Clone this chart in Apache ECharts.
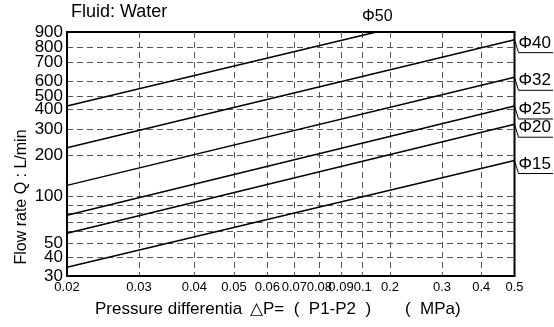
<!DOCTYPE html>
<html>
<head>
<meta charset="utf-8">
<script src="https://cdn.jsdelivr.net/npm/echarts@6/dist/echarts.min.js"></script>
<style>
  html, body { margin: 0; padding: 0; background: #fff; }
  #chart { width: 554px; height: 327px; }
</style>
</head>
<body>
<div id="chart"></div>
<script>
// tick values and their labels (pressure MPa / flow L/min)
const xTicks = [0.02, 0.03, 0.04, 0.05, 0.06, 0.07, 0.08, 0.09, 0.1, 0.2, 0.3, 0.4, 0.5];
const xTickLabels = ['0.02', '0.03', '0.04', '0.05', '0.06', '0.07', '0.08', '0.09', '0.1', '0.2', '0.3', '0.4', '0.5'];
const yTicks = [30, 40, 50, 60, 70, 80, 90, 100, 200, 300, 400, 500, 600, 700, 800, 900];
const yTickLabels = ['30', '40', '50', '', '', '', '', '100', '200', '300', '400', '500', '600', '700', '800', '900'];

// the printed chart is not evenly scaled: where each tick sits along its axis
const xTickPos = [0, 72, 127.3, 167, 200.3, 227.3, 252.3, 274, 295.7, 323, 375, 414.3, 447.5];
const yTickPos = [0, 18.6, 32.3, 44.5, 53.8, 63.2, 70.7, 80, 120.8, 146.8, 166.7, 180, 195, 213.5, 228.7, 244];

// sizes (pipe bore) and line end points [pressure, flow]
const sizes = ['Φ50', 'Φ40', 'Φ32', 'Φ25', 'Φ20', 'Φ15'];
const startP = [0.02, 0.02, 0.02, 0.02, 0.02, 0.02];
const startQ = [425, 229, 126, 77.3, 58.5, 34.7];
const endP = [0.15, 0.5, 0.5, 0.5, 0.5, 0.5];
const endQ = [900, 850, 620, 425, 325, 187];

function mapScale(v, vals, pos) {
    for (let i = 0; i < vals.length - 1; i++) {
        if (v <= vals[i + 1] || i === vals.length - 2) {
            return pos[i] + (v - vals[i]) / (vals[i + 1] - vals[i]) * (pos[i + 1] - pos[i]);
        }
    }
}
function labelAt(v, pos, labels) {
    for (let i = 0; i < pos.length; i++) {
        if (Math.abs(pos[i] - v) < 0.01) return labels[i];
    }
    return '';
}
const mx = p => mapScale(p, xTicks, xTickPos);
const my = q => mapScale(q, yTicks, yTickPos);

const FONT = 'Liberation Sans, Arial, sans-serif';
const gridDash = { type: [6, 4], color: '#555', width: 1 };
const yMax = yTickPos[yTickPos.length - 1];

const series = sizes.map((name, i) => ({
    name: name,
    type: 'line',
    symbol: 'none',
    silent: true,
    lineStyle: { color: '#000', width: 1.5 },
    data: [[mx(startP[i]), my(startQ[i])], [mx(endP[i]), my(endQ[i])]]
}));

const yLabelStyle = {
    formatter: v => labelAt(v, yTickPos, yTickLabels),
    color: '#000', fontSize: 17, lineHeight: 11, fontFamily: FONT, margin: 4,
    showMinLabel: true, showMaxLabel: true, hideOverlap: false
};
// the top labels sit close together; each gets its own overlay axis so none is dropped
function labelAxis(values) {
    return {
        type: 'value',
        position: 'left',
        min: 0,
        max: yMax,
        axisLine: { show: false },
        axisTick: { show: false },
        axisLabel: Object.assign({ customValues: values }, yLabelStyle),
        splitLine: { show: false }
    };
}

var myChart = echarts.init(document.getElementById('chart'), null, { renderer: 'canvas' });
var option = {
    animation: false,
    grid: {
        left: 67, right: 39.5, top: 32, bottom: 51,
        show: true, borderColor: '#000', borderWidth: 2
    },
    xAxis: {
        type: 'value',
        min: 0,
        max: xTickPos[xTickPos.length - 1],
        axisLine: { lineStyle: { color: '#000', width: 2 } },
        axisTick: { show: false, customValues: xTickPos },
        axisLabel: {
            customValues: xTickPos,
            formatter: v => labelAt(v, xTickPos, xTickLabels),
            color: '#000', fontSize: 13, fontFamily: FONT, margin: 5,
            showMinLabel: true, showMaxLabel: true, hideOverlap: false
        },
        splitLine: { show: true, showMinLine: false, showMaxLine: false, lineStyle: gridDash }
    },
    yAxis: [
        {
            type: 'value',
            min: 0,
            max: yMax,
            axisLine: { lineStyle: { color: '#000', width: 2 } },
            axisTick: { show: false, customValues: yTickPos },
            axisLabel: Object.assign({ customValues: yTickPos.slice(0, -2) }, yLabelStyle),
            splitLine: { show: true, showMinLine: false, showMaxLine: false, lineStyle: gridDash }
        },
        labelAxis([yTickPos[yTickPos.length - 2]]),
        labelAxis([yMax])
    ],
    series: series
};
myChart.setOption(option);

// labels for each size, with the little leader line to the right of the plot
const graphics = [
    { type: 'text', left: 71, top: 3, style: { text: 'Fluid: Water', font: '18px ' + FONT, fill: '#000' } },
    {
        type: 'text', x: 22, y: 197, rotation: Math.PI / 2,
        style: { text: 'Flow rate Q : L/min', font: '16px ' + FONT, fill: '#000', align: 'center', verticalAlign: 'middle' }
    },
    { type: 'text', left: 95, top: 301, style: { text: 'Pressure differentia', font: '17px ' + FONT, fill: '#000' } },
    { type: 'text', left: 250, top: 301, style: { text: '\u25B3P=  (  P1-P2  )', font: '17px ' + FONT, fill: '#000' } },
    { type: 'text', left: 405, top: 301, style: { text: '(  MPa)', font: '17px ' + FONT, fill: '#000' } }
];
sizes.forEach((name, i) => {
    const p = myChart.convertToPixel({ gridIndex: 0 }, [mx(endP[i]), my(endQ[i])]);
    if (i === 0) {
        graphics.push({
            type: 'text', x: p[0] + 1, y: p[1] - 7,
            style: { text: name, font: '16px ' + FONT, fill: '#000', align: 'center', verticalAlign: 'bottom' }
        });
        return;
    }
    graphics.push({
        type: 'polyline',
        shape: { points: [[p[0], p[1]], [p[0] + 4, p[1] + 13], [553, p[1] + 13]] },
        style: { stroke: '#000', lineWidth: 1, fill: null }
    });
    graphics.push({
        type: 'text', x: p[0] + 4, y: p[1] + 12,
        style: { text: name, font: '17px ' + FONT, fill: '#000', align: 'left', verticalAlign: 'bottom' }
    });
});
myChart.setOption({ graphic: graphics });

window.addEventListener('resize', () => {
    myChart.resize()
})
</script>
</body>
</html>
